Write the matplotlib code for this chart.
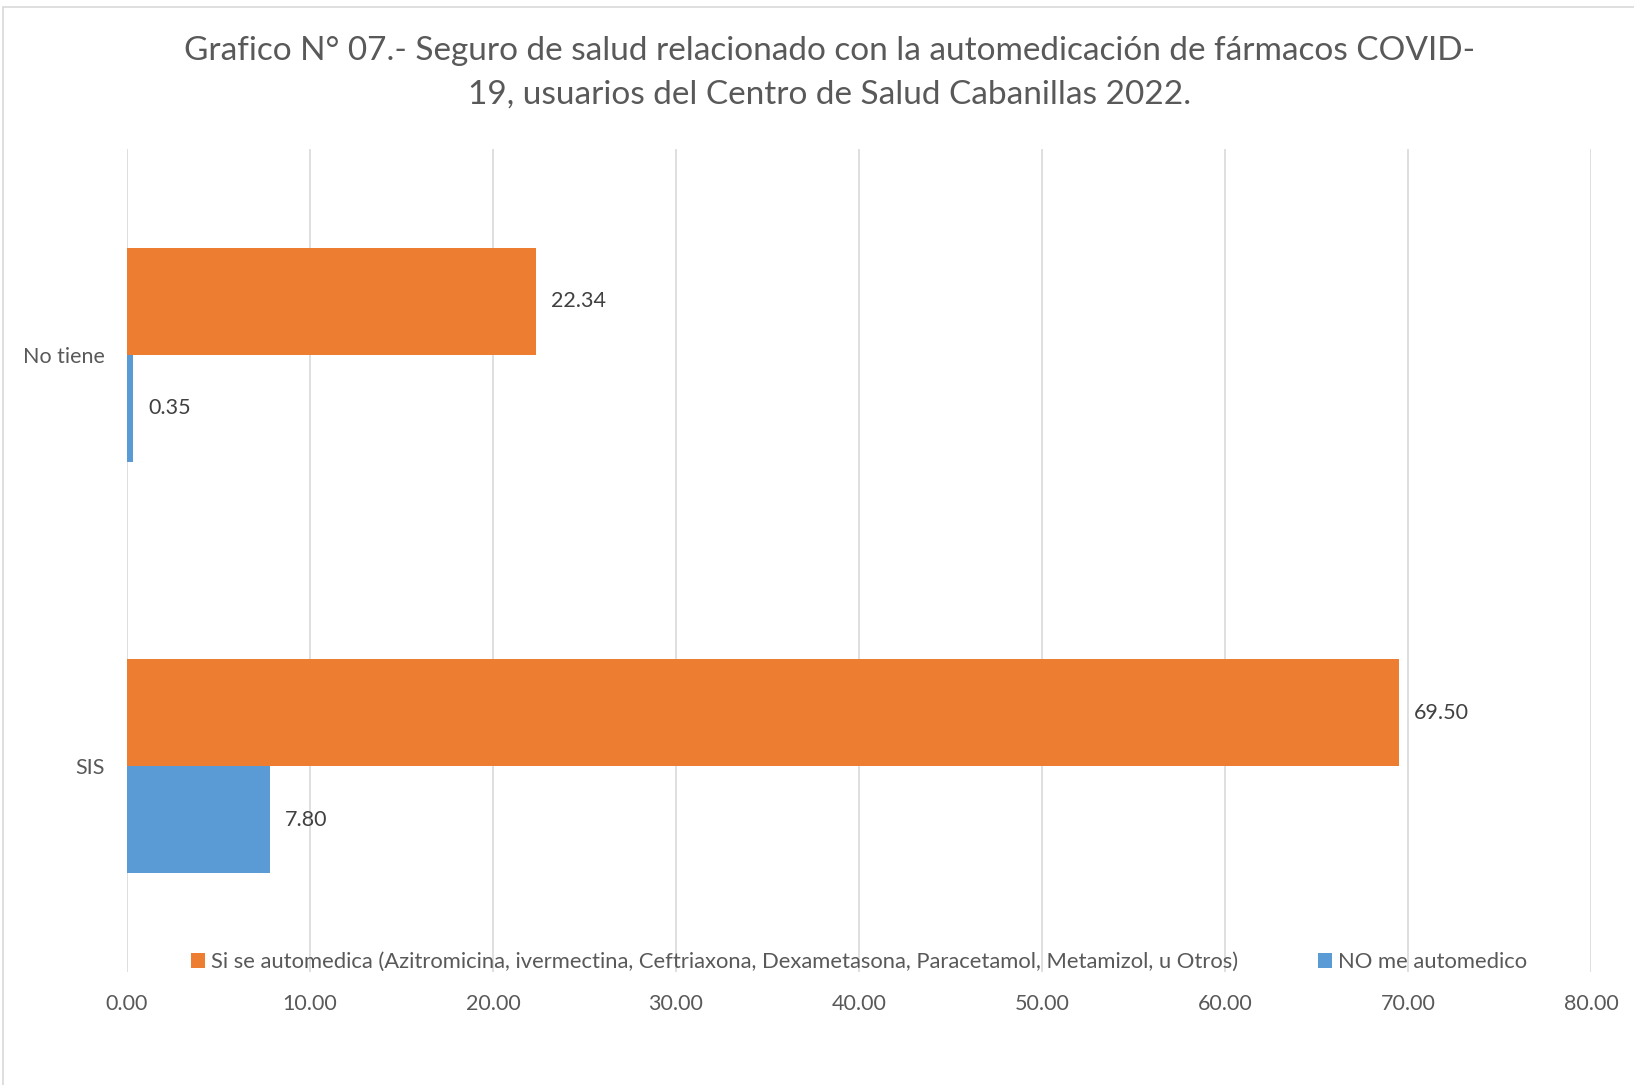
import matplotlib
matplotlib.use("Agg")
import matplotlib.pyplot as plt
from matplotlib.patches import Rectangle

categories = ["SIS", "No tiene"]
si_values = [69.50, 22.34]
no_values = [7.80, 0.35]
series_names = ["Si se automedica (Azitromicina, ivermectina, Ceftriaxona, Dexametasona, Paracetamol, Metamizol, u Otros)",
                "NO me automedico"]
xticks = [0, 10, 20, 30, 40, 50, 60, 70, 80]
title = "Grafico N° 07.- Seguro de salud relacionado con la automedicación de fármacos COVID-\n19, usuarios del Centro de Salud Cabanillas 2022."

plt.rcParams['font.family'] = ['Lato', 'DejaVu Sans']
TXT = '#595959'
ORANGE = '#ED7D31'
BLUE = '#5B9BD5'

W, H = 1634, 1085
fig = plt.figure(figsize=(W/100, H/100), dpi=100)
fig.patches.append(Rectangle((3/W, -0.01), 1.02, 1 - 7/H + 0.01, transform=fig.transFigure,
                             fill=False, edgecolor='#D9D9D9', linewidth=1.2))

left, right, top, bottom = 127, 1591, 149, 972
ax = fig.add_axes([left/W, 1 - bottom/H, (right-left)/W, (bottom-top)/H])

h = 0.26
ypos = list(range(len(categories)))
b1 = ax.barh([y + h/2 for y in ypos], si_values, height=h, color=ORANGE, label=series_names[0], zorder=3)
b2 = ax.barh([y - h/2 for y in ypos], no_values, height=h, color=BLUE, label=series_names[1], zorder=3)
for bars in (b1, b2):
    ax.bar_label(bars, labels=[f"{v.get_width():.2f}" for v in bars], padding=11, fontsize=15.5, color='#404040')

ax.set_xlim(0, 80)
ax.set_ylim(-0.5, 1.5)
ax.set_xticks(xticks)
ax.set_xticklabels([f"{v:.2f}" for v in xticks], fontsize=15.5, color=TXT)
ax.set_yticks(ypos)
ax.set_yticklabels(categories, fontsize=15.5, color=TXT)
ax.tick_params(axis='x', length=0, pad=15.7)
ax.tick_params(axis='y', length=0, pad=16)
ax.grid(axis='x', color='#D9D9D9', linewidth=1.2, zorder=0)
for s in ax.spines.values():
    s.set_visible(False)

fig.text(0.5 + 12.5/W, 1 - 73/H, title, ha='center', va='center', fontsize=24, color=TXT, linespacing=1.55)

fig.legend(handles=[b1, b2], loc='center', bbox_to_anchor=(859/W, 1 - 962/H), ncol=2, frameon=False,
           fontsize=15.8, labelcolor=TXT, handlelength=0.65, handleheight=0.65, handletextpad=0.25,
           columnspacing=3.65)

fig.savefig("out.png", dpi=100, facecolor='white')
